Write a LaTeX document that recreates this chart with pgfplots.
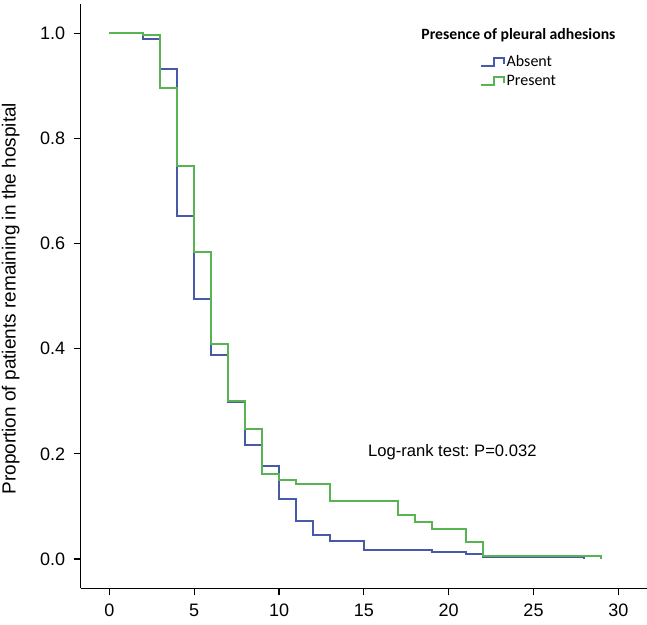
\documentclass[border=0pt]{standalone}
\usepackage{fontspec}
\setmainfont{Liberation Sans}
\newfontfamily\legfont{Carlito}
\usepackage{pgfplots}
\pgfplotsset{compat=1.18}
\frenchspacing
\definecolor{kmblue}{RGB}{70,90,168}
\definecolor{kmgreen}{RGB}{88,180,82}
\pgfplotsset{steplegend/.style={legend image code/.code={\draw[##1] (0pt,-4pt) -- (13pt,-4pt) -- (13pt,4pt) -- (23pt,4pt) -- (23pt,-2pt);}}}
\begin{document}
\begin{tikzpicture}
\begin{axis}[
  scale only axis, width=566.3pt, height=584pt,
  xmin=-1.69, xmax=31.69, ymin=-0.0557, ymax=1.0553,
  axis lines=left, axis line style={-, line width=1.2pt, black},
  tick align=outside, major tick length=7pt, tick style={black, line width=1.2pt},
  xtick={0,5,10,15,20,25,30}, ytick={0,0.2,0.4,0.6,0.8,1},
  /pgf/number format/assume math mode=true,
  tick label style={font=\fontsize{18}{20}\selectfont},
  yticklabel style={xshift=-5pt, /pgf/number format/.cd, fixed, fixed zerofill, precision=1},
  xticklabel style={yshift=-5pt},
  ylabel={Proportion of patients remaining in the hospital},
  every axis y label/.style={at={(axis description cs:-0.1234,0.496)}, rotate=90, anchor=center,
    font=\fontsize{19}{23}\selectfont},
  legend style={at={(axis description cs:0.705,0.9155)}, anchor=north west, draw=none, fill=none,
    font=\legfont\fontsize{16}{19}\selectfont, row sep=4.5pt, inner sep=0pt, nodes={inner sep=1.5pt}},
  legend cell align=left,
  clip=false
]
\addplot[const plot, color=kmblue, line width=2pt, steplegend]
coordinates {
(0,1.0) (2,0.989) (3,0.932) (4,0.652) (5,0.495) (6,0.388) (7,0.299) (8,0.217)
(9,0.177) (10,0.115) (11,0.073) (12,0.046) (13,0.034) (15,0.017) (19,0.013)
(21,0.009) (22,0.004) (28,0.0)
};
\addlegendentry{Absent}
\addplot[const plot, color=kmgreen, line width=2pt, steplegend]
coordinates {
(0,1.0) (2,0.996) (3,0.897) (4,0.748) (5,0.585) (6,0.409) (7,0.301) (8,0.247)
(9,0.162) (10,0.150) (11,0.143) (13,0.111) (17,0.084) (18,0.071) (19,0.058)
(21,0.032) (22,0.006) (29,0.0)
};
\addlegendentry{Present}
\node[anchor=base west, inner sep=0pt, font=\fontsize{16.6}{19}\selectfont] at (axis cs:15.24,0.1946) {Log-rank test: P=0.032};
\node[anchor=base, font=\legfont\bfseries\fontsize{15.7}{18}\selectfont] at (axis description cs:0.773,0.9397) {Presence of pleural adhesions};
\end{axis}
\pgfresetboundingbox
\path[use as bounding box] (-80.7pt,-35.7pt) rectangle (566.3pt,588.3pt);
\end{tikzpicture}
\end{document}
